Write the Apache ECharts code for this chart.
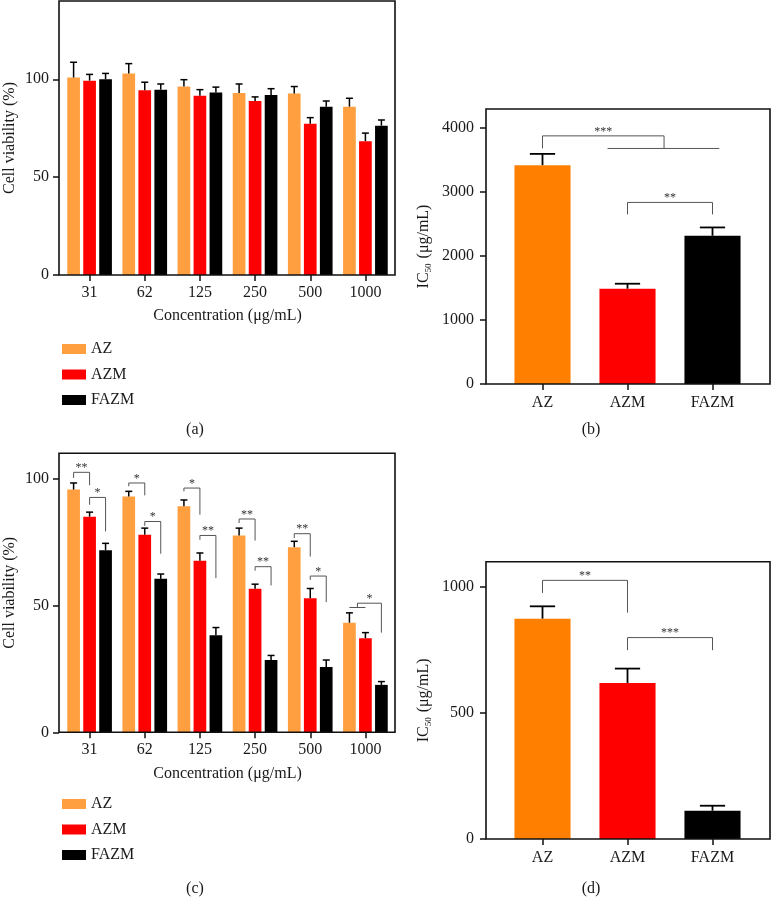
<!DOCTYPE html>
<html><head><meta charset="utf-8">
<script src="https://cdn.jsdelivr.net/npm/echarts@6/dist/echarts.min.js"></script>
<style>html,body{margin:0;padding:0;background:#fff}#c{width:771px;height:897px}</style>
</head><body><div id="c"></div><script>
// ---------- data ----------
const concentrations = ['31', '62', '125', '250', '500', '1000'];
const groups = ['AZ', 'AZM', 'FAZM'];

// panel (a): cell viability (%)
const viabA_AZ   = [100.9, 103.0, 96.3, 93.0, 92.7, 86.0];
const viabA_AZM  = [99.3, 94.4, 91.6, 88.9, 77.3, 68.4];
const viabA_FAZM = [100.0, 94.7, 93.2, 92.0, 86.0, 76.3];
const errA_AZ    = [7.8, 5.0, 3.5, 4.6, 3.6, 4.3];
const errA_AZM   = [3.2, 4.1, 3.1, 2.1, 3.1, 4.1];
const errA_FAZM  = [3.0, 2.9, 2.8, 3.2, 2.9, 2.9];

// panel (b): IC50 (µg/mL)
const ic50B    = [3422, 1490, 2318];
const ic50BErr = [176, 78, 130];

// panel (c): cell viability (%)
const viabC_AZ   = [95.7, 93.0, 89.1, 77.6, 73.0, 43.2];
const viabC_AZM  = [85.0, 77.9, 67.6, 56.6, 52.9, 37.1];
const viabC_FAZM = [71.8, 60.5, 38.3, 28.5, 25.7, 18.7];
const errC_AZ    = [2.6, 2.0, 2.5, 2.9, 2.3, 3.9];
const errC_AZM   = [1.8, 2.6, 3.1, 1.8, 3.8, 2.2];
const errC_FAZM  = [2.7, 1.9, 3.0, 1.8, 2.8, 1.3];

// panel (d): IC50 (µg/mL)
const ic50D    = [874, 619, 112];
const ic50DErr = [49, 57, 20];

// significance brackets, panel (c): [concentration index, from bar, to bar, top, left end, right end, stars]
const sigC = [
  [0, 0, 1, 102.5, 100.3, 97.4, '**'], [0, 1, 2, 92.6, 89.7, 79.2, '*'],
  [1, 0, 1, 98.3, 97.0, 93.4, '*'],    [1, 1, 2, 83.1, 81.4, 70.4, '*'],
  [2, 0, 1, 96.3, 95.0, 85.8, '*'],    [2, 1, 2, 77.6, 75.9, 60.8, '**'],
  [3, 0, 1, 84.1, 82.5, 75.6, '**'],   [3, 1, 2, 65.3, 63.7, 57.9, '**'],
  [4, 0, 1, 78.3, 76.6, 69.3, '**'],   [4, 1, 2, 61.6, 60.1, 51.3, '*'],
  [5, 0.5, 2, 50.9, 49.2, 39.3, '*']
];
const sigCLines = [[5, 0, 1, 49.2]]; // [concentration index, from bar, to bar, level]
// panels (b),(d): [from category pos, to category pos, top, left end, right end, stars]
const sigB = [[0, 1.43, 3880, 3683, 3683, '***'], [1, 2, 2839, 2652, 2652, '**']];
const sigBLines = [[0.765, 2.08, 3683]]; // [from pos, to pos, level]
const sigD = [[0, 1, 1026, 976, 898, '**'], [1, 2, 799, 749, 749, '***']];

// ---------- style ----------
const FONT = '"Liberation Serif", "Times New Roman", serif';
const TXT = '#1a1a1a';
const colorsAC = ['#FF9F40', '#FF0000', '#000000'];
const colorsBD = ['#FF8000', '#FF0000', '#000000'];
const BW_AC = 0.23, GAP_AC = 0.26;
const BW_BD = 0.66;

const chart = echarts.init(document.getElementById('c'), null, {renderer: 'canvas'});

function frameGrid(l, t, w, h) {
  return {left: l, top: t, width: w, height: h, show: true, borderColor: '#111', borderWidth: 1.6,
          backgroundColor: 'transparent', z: 5, outerBoundsMode: 'none', containLabel: false};
}
function dataGrid(l, t, w, h) {
  return {left: l, top: t, width: w, height: h, outerBoundsMode: 'none', containLabel: false};
}
const grids = [
  frameGrid(59, 1, 336, 274),    dataGrid(62, 1, 331, 274),
  frameGrid(486, 109, 284, 275), dataGrid(500, 109, 255, 275),
  frameGrid(59, 453.3, 336, 279), dataGrid(62, 453.3, 331, 279),
  frameGrid(486, 561.7, 284, 277.3), dataGrid(500, 561.7, 255, 277.3)
];

const icName = '{a|IC}{b|50}{a| (μg/mL)}';
const nameRich = {
  a: {fontFamily: FONT, fontSize: 16, color: TXT, lineHeight: 18, verticalAlign: 'middle'},
  b: {fontFamily: FONT, fontSize: 9, color: TXT, verticalAlign: 'bottom', padding: [0, 1, 0, 0]}
};

function frameY(gi, max, ticks, name, gap, margin, rich) {
  return {
    type: 'value', gridIndex: gi, min: 0, max: max,
    axisLine: {show: false},
    splitLine: {show: false},
    axisTick: {show: true, length: 6, customValues: ticks, lineStyle: {color: '#111', width: 1.5}},
    axisLabel: {customValues: ticks, margin: margin, fontFamily: FONT, fontSize: 16, color: TXT,
                formatter: v => String(v)},
    name: name, nameLocation: 'middle', nameGap: gap, nameRotate: 90,
    nameTextStyle: {fontFamily: FONT, fontSize: 16, color: TXT, rich: rich}
  };
}
function hiddenY(gi, max) {
  return {type: 'value', gridIndex: gi, min: 0, max: max, show: false, splitLine: {show: false}};
}
function hiddenX(gi) {
  return {type: 'value', gridIndex: gi, min: 0, max: 1, show: false, splitLine: {show: false}};
}
function catX(gi, data, name, margin) {
  return {
    type: 'category', gridIndex: gi, data: data,
    axisLine: {show: false},
    axisTick: {show: true, alignWithLabel: true, length: 6, lineStyle: {color: '#111', width: 1.5}},
    axisLabel: {margin: margin, fontFamily: FONT, fontSize: 16, color: TXT, interval: 0},
    name: name, nameLocation: 'middle', nameGap: 33,
    nameTextStyle: {fontFamily: FONT, fontSize: 16, color: TXT}
  };
}

const xAxes = [
  hiddenX(0), catX(1, concentrations, 'Concentration (μg/mL)', 10),
  hiddenX(2), catX(3, groups, '', 11),
  hiddenX(4), catX(5, concentrations, 'Concentration (μg/mL)', 9),
  hiddenX(6), catX(7, groups, '', 11)
];
const yAxes = [
  frameY(0, 140, [0, 50, 100], 'Cell viability (%)', 41, 10), hiddenY(1, 140),
  frameY(2, 4300, [0, 1000, 2000, 3000, 4000], icName, 53, 12, nameRich), hiddenY(3, 4300),
  frameY(4, 110, [0, 50, 100], 'Cell viability (%)', 41, 10), hiddenY(5, 110),
  frameY(6, 1100, [0, 500, 1000], icName, 53, 12, nameRich), hiddenY(7, 1100)
];

// error bar renderer
function errRender(slot, count, widthPct, gapPct, capRatio, lw) {
  return function (params, api) {
    const i = api.value(0), v = api.value(1), t = api.value(2);
    const band = api.size([1, 0])[0];
    const bw = band * widthPct;
    const off = (slot - (count - 1) / 2) * bw * (1 + gapPct);
    const p0 = api.coord([i, v]), p1 = api.coord([i, t]);
    const x = p0[0] + off, cap = bw * capRatio / 2;
    return {type: 'group', children: [
      {type: 'line', shape: {x1: x, y1: p0[1], x2: x, y2: p1[1]}, style: {stroke: '#000', lineWidth: lw}},
      {type: 'line', shape: {x1: x - cap, y1: p1[1], x2: x + cap, y2: p1[1]}, style: {stroke: '#000', lineWidth: lw}}
    ]};
  };
}

function bracketShapes(x1, x2, yT, yL, yR, label) {
  return [
    {type: 'polyline', shape: {points: [[x1, yL], [x1, yT], [x2, yT], [x2, yR]]},
     style: {stroke: '#555', lineWidth: 1, fill: null}},
    {type: 'text', style: {text: label, x: (x1 + x2) / 2, y: yT - 4.5, align: 'center', verticalAlign: 'middle',
     fontFamily: FONT, fontSize: 12, fill: '#333'}}
  ];
}

// panel (c) brackets: positions by bar slot
function sigRenderC(params, api) {
  const s = sigC[params.dataIndex];
  const band = api.size([1, 0])[0];
  const step = band * BW_AC * (1 + GAP_AC);
  const cx = api.coord([s[0], 0])[0];
  const X = k => cx + (k - 1) * step;
  const Y = v => api.coord([s[0], v])[1];
  return {type: 'group', children: bracketShapes(X(s[1]), X(s[2]), Y(s[3]), Y(s[4]), Y(s[5]), s[6])};
}
function sigLineC(params, api) {
  const s = sigCLines[params.dataIndex];
  const band = api.size([1, 0])[0];
  const step = band * BW_AC * (1 + GAP_AC);
  const cx = api.coord([s[0], 0])[0];
  const y = api.coord([s[0], s[3]])[1];
  return {type: 'line', shape: {x1: cx + (s[1] - 1) * step, y1: y, x2: cx + (s[2] - 1) * step, y2: y},
          style: {stroke: '#555', lineWidth: 1}};
}
// panels (b),(d): positions in category units
function sigRenderBD(list) {
  return function (params, api) {
    const s = list[params.dataIndex];
    const band = api.size([1, 0])[0];
    const c0 = api.coord([0, 0])[0];
    const X = k => c0 + k * band;
    const Y = v => api.coord([0, v])[1];
    return {type: 'group', children: bracketShapes(X(s[0]), X(s[1]), Y(s[2]), Y(s[3]), Y(s[4]), s[5])};
  };
}
function sigLineB(params, api) {
  const s = sigBLines[params.dataIndex];
  const band = api.size([1, 0])[0];
  const c0 = api.coord([0, 0])[0];
  const y = api.coord([0, s[2]])[1];
  return {type: 'line', shape: {x1: c0 + s[0] * band, y1: y, x2: c0 + s[1] * band, y2: y},
          style: {stroke: '#555', lineWidth: 1}};
}

const series = [];
function addGrouped(axisIdx, sets, errs) {
  sets.forEach((vals, k) => {
    series.push({
      type: 'bar', name: groups[k], xAxisIndex: axisIdx, yAxisIndex: axisIdx,
      data: vals, barWidth: (BW_AC * 100) + '%', barGap: (GAP_AC * 100) + '%',
      itemStyle: {color: colorsAC[k]}, z: 2
    });
  });
  sets.forEach((vals, k) => {
    series.push({
      type: 'custom', name: 'err' + axisIdx + '_' + k, xAxisIndex: axisIdx, yAxisIndex: axisIdx,
      data: vals.map((v, i) => [i, v, v + errs[k][i]]), clip: false, z: 3,
      renderItem: errRender(k, 3, BW_AC, GAP_AC, 0.55, 1.5)
    });
  });
}
function addSingle(axisIdx, vals, errs, nm) {
  series.push({
    type: 'bar', name: nm, xAxisIndex: axisIdx, yAxisIndex: axisIdx,
    data: vals.map((v, i) => ({value: v, itemStyle: {color: colorsBD[i]}})),
    barWidth: (BW_BD * 100) + '%', z: 2
  });
  series.push({
    type: 'custom', name: nm + 'err', xAxisIndex: axisIdx, yAxisIndex: axisIdx,
    data: vals.map((v, i) => [i, v, v + errs[i]]), clip: false, z: 3,
    renderItem: errRender(0, 1, BW_BD, 0, 0.45, 1.8)
  });
}

addGrouped(1, [viabA_AZ, viabA_AZM, viabA_FAZM], [errA_AZ, errA_AZM, errA_FAZM]);
addSingle(3, ic50B, ic50BErr, 'IC50 b');
addGrouped(5, [viabC_AZ, viabC_AZM, viabC_FAZM], [errC_AZ, errC_AZM, errC_FAZM]);
addSingle(7, ic50D, ic50DErr, 'IC50 d');

series.push({type: 'custom', name: 'sigC', xAxisIndex: 5, yAxisIndex: 5, clip: false, z: 4,
  data: sigC.map(s => [s[0], s[3]]), renderItem: sigRenderC});
series.push({type: 'custom', name: 'sigCL', xAxisIndex: 5, yAxisIndex: 5, clip: false, z: 4,
  data: sigCLines.map(s => [s[0], s[3]]), renderItem: sigLineC});
series.push({type: 'custom', name: 'sigB', xAxisIndex: 3, yAxisIndex: 3, clip: false, z: 4,
  data: sigB.map(s => [0, s[2]]), renderItem: sigRenderBD(sigB)});
series.push({type: 'custom', name: 'sigBL', xAxisIndex: 3, yAxisIndex: 3, clip: false, z: 4,
  data: sigBLines.map(s => [0, s[2]]), renderItem: sigLineB});
series.push({type: 'custom', name: 'sigD', xAxisIndex: 7, yAxisIndex: 7, clip: false, z: 4,
  data: sigD.map(s => [0, s[2]]), renderItem: sigRenderBD(sigD)});

function legendAt(top) {
  return {
    orient: 'vertical', left: 62, top: top, padding: 0, itemGap: 9.5,
    itemWidth: 24, itemHeight: 10, icon: 'rect', selectedMode: false,
    data: groups, textStyle: {fontFamily: FONT, fontSize: 16, color: TXT, lineHeight: 16}
  };
}
function caption(txt, x, y) {
  return {text: txt, left: x, top: y, textAlign: 'center', padding: 0,
          textStyle: {fontFamily: FONT, fontSize: 16, fontWeight: 'normal', color: TXT}};
}

chart.setOption({
  animation: false,
  backgroundColor: '#fff',
  title: [caption('(a)', 195, 422), caption('(b)', 591, 422), caption('(c)', 195, 881), caption('(d)', 591, 881)],
  legend: [legendAt(341), legendAt(796)],
  tooltip: {show: false},
  grid: grids,
  xAxis: xAxes,
  yAxis: yAxes,
  series: series
});
</script></body></html>
